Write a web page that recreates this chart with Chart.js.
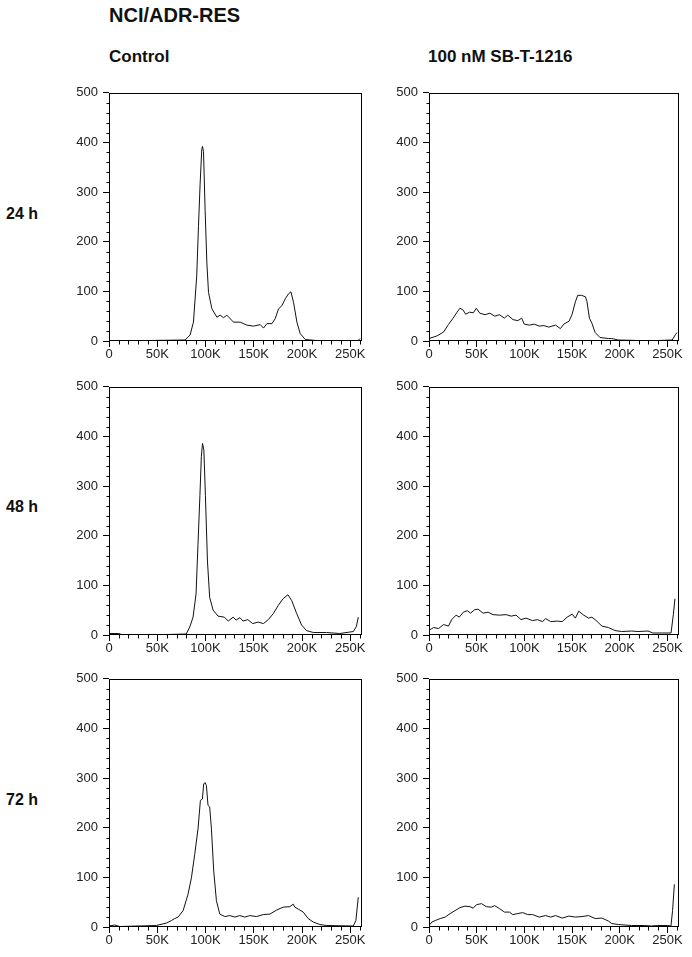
<!DOCTYPE html>
<html>
<head>
<meta charset="utf-8">
<script src="https://cdn.jsdelivr.net/npm/chart.js@4.4.1/dist/chart.umd.min.js"></script>
<style>
  body { margin: 0; width: 692px; height: 957px; background: #fff; position: relative; overflow: hidden; font-family: Arial, "Liberation Sans", sans-serif; }
  .lbl { position: absolute; font-weight: bold; color: #111; line-height: 1; white-space: nowrap; }
  canvas { position: absolute; }
</style>
</head>
<body>
<div class="lbl" style="left:109px; top:5px; font-size:20px">NCI/ADR-RES</div>
<div class="lbl" style="left:109px; top:48px; font-size:17px">Control</div>
<div class="lbl" style="left:428px; top:48px; font-size:17px">100 nM SB-T-1216</div>
<div class="lbl" style="left:6px; top:206px; font-size:16px">24 h</div>
<div class="lbl" style="left:6px; top:499px; font-size:16px">48 h</div>
<div class="lbl" style="left:6px; top:792px; font-size:16px">72 h</div>

<script>
// x values in K (thousands), y = count
const ctrl24X = [0, 40, 78.8, 84, 87.5, 90.9, 92.7, 94.4, 96.1, 96.8, 97.9, 99.6, 101.4, 103.1, 106.6, 111.8, 115.2, 118.7, 122.1, 129, 135.9, 142.8, 149.8, 156.7, 160.1, 163.6, 168.8, 172.2, 175.7, 179.1, 182.6, 186, 188.5, 191.2, 194.7, 198.1, 203.3, 215, 240, 258, 260];
const ctrl24Y = [1, 1, 2, 12, 38, 131, 230, 316, 385, 392, 382, 263, 157, 98, 65, 48, 52, 47, 52, 38, 38, 32, 30, 33, 26, 35, 35, 45, 65, 71, 85, 95, 99, 78, 38, 15, 3, 1, 1, 1, 5];

const treat24X = [0, 8.1, 15.2, 20.3, 25.3, 29.4, 32.4, 35.5, 38.5, 42.5, 46.6, 49.6, 53.2, 58.8, 63.8, 68.9, 73.9, 79, 82.6, 88.1, 93.2, 97.2, 99.9, 105.3, 110.4, 115.5, 120.5, 125.6, 132.7, 137.8, 141.4, 146.9, 149.9, 153.5, 156, 160, 164.1, 165.6, 168.2, 170.8, 174.2, 179.3, 188.4, 191.5, 198.5, 220, 240, 255, 258.5, 260];
const treat24Y = [5, 10, 18, 33, 46, 58, 66, 63, 54, 58, 57, 66, 56, 53, 56, 50, 53, 46, 52, 43, 41, 46, 34, 32, 34, 30, 31, 28, 32, 25, 34, 40, 53, 79, 92, 92, 89, 80, 46, 36, 17, 7, 5, 5, 2, 1, 1, 2, 13, 17];

const ctrl48X = [0, 10, 13, 30, 60, 80, 83.7, 87.1, 90.2, 92.2, 94.2, 95.7, 96.9, 98.3, 99.9, 102, 104.3, 107.9, 113, 119.5, 123.6, 128.6, 131.7, 135.7, 138.8, 143.8, 148.9, 154.6, 160, 165.1, 170.2, 175.2, 180.3, 185.4, 189.4, 194.5, 199.6, 204.6, 211.7, 225.4, 239.1, 253.2, 256.3, 258.3];
const ctrl48Y = [3, 3, 1, 1, 1, 2, 16, 36, 83, 182, 281, 360, 386, 373, 281, 149, 76, 50, 38, 36, 28, 36, 30, 35, 28, 31, 23, 26, 23, 31, 43, 59, 73, 81, 69, 43, 20, 9, 5, 5, 3, 7, 17, 36];

const treat48X = [0, 1.4, 4.8, 10, 15.2, 20.4, 23.8, 28.4, 31.8, 36, 40.1, 43.6, 48, 51.5, 56.7, 61.9, 67.1, 74, 80.9, 86.1, 91.3, 96.5, 101.7, 108.6, 113.8, 118.9, 122.4, 127.6, 134.5, 139.7, 144.9, 150.1, 153.5, 157, 162.2, 167.4, 170.8, 176, 181.2, 188.1, 195, 201.9, 212.3, 219.2, 229.6, 234.8, 243.4, 253.8, 256.2, 257.9];
const treat48Y = [8, 11, 15, 13, 21, 18, 31, 40, 36, 46, 49, 44, 51, 52, 44, 46, 41, 40, 41, 38, 40, 31, 34, 29, 31, 27, 33, 27, 28, 27, 36, 42, 34, 48, 40, 34, 36, 28, 18, 15, 9, 7, 8, 7, 8, 4, 4, 4, 41, 73];

const ctrl72X = [0, 0.7, 5.9, 11.1, 49.1, 59.5, 64.7, 68.1, 71.6, 76.8, 81.9, 85.4, 88.8, 92.3, 94.7, 96.8, 98.1, 99.5, 100.9, 102.6, 104.3, 106.1, 108.5, 111.3, 114.8, 120, 125.2, 130.4, 135.5, 140.7, 145.9, 152.8, 159.8, 166.7, 173.6, 180.5, 187.4, 190.9, 192.6, 196.1, 201.3, 206.4, 211.6, 218.5, 225.4, 253.1, 255.8, 258.3];
const ctrl72Y = [2, 2, 4, 1, 3, 8, 13, 17, 20, 33, 66, 99, 146, 199, 255, 258, 288, 291, 285, 245, 242, 199, 113, 53, 26, 21, 23, 20, 23, 20, 23, 21, 25, 26, 34, 40, 41, 46, 40, 36, 30, 17, 10, 5, 3, 2, 13, 60];

const treat72X = [0, 0.7, 3.1, 6.6, 11.8, 17, 22.1, 27.3, 32.5, 37.7, 42.9, 46.3, 49.8, 55, 60.2, 65.3, 68.8, 74, 79.2, 84.4, 87.8, 93, 98.2, 103.4, 108.6, 115.5, 122.4, 127.6, 132.8, 139.7, 146.6, 153.5, 160.4, 167.3, 174.3, 181.2, 188.1, 191.6, 198.5, 212.3, 226.1, 233, 239.9, 250.3, 253.7, 255.4, 257.3];
const treat72Y = [3, 3, 10, 13, 17, 20, 27, 33, 39, 42, 41, 38, 45, 47, 41, 40, 43, 37, 30, 30, 25, 27, 29, 25, 25, 20, 23, 20, 23, 18, 22, 20, 21, 23, 17, 18, 12, 7, 5, 3, 3, 2, 3, 3, 2, 33, 86];

const xTicks = [0, 50, 100, 150, 200, 250];   // shown as 0, 50K ... 250K
const yTicks = [0, 100, 200, 300, 400, 500];

// frame box + minor ticks
const frame = {
  id: 'frame',
  afterDraw(chart) {
    const { ctx, chartArea: a, scales: { x, y } } = chart;
    ctx.save();
    ctx.strokeStyle = '#000';
    ctx.lineWidth = 1;
    const l = Math.round(a.left) + 0.5, t = Math.round(a.top) + 0.5;
    const r = Math.round(a.right) - 0.5, b = Math.round(a.bottom) - 0.5;
    ctx.strokeRect(l, t, r - l, b - t);
    ctx.beginPath();
    for (let v = 10; v < 262; v += 10) {
      if (v % 50 === 0) continue;
      const px = Math.round(x.getPixelForValue(v)) + 0.5;
      ctx.moveTo(px, b); ctx.lineTo(px, b + 4);
    }
    for (let v = 20; v < 500; v += 20) {
      if (v % 100 === 0) continue;
      const py = Math.round(y.getPixelForValue(v)) + 0.5;
      ctx.moveTo(l - 3, py); ctx.lineTo(l, py);
    }
    ctx.stroke();
    ctx.restore();
  }
};

const panels = [
  { xs: ctrl24X, ys: ctrl24Y, col: 0, row: 0 },
  { xs: treat24X, ys: treat24Y, col: 1, row: 0 },
  { xs: ctrl48X, ys: ctrl48Y, col: 0, row: 1 },
  { xs: treat48X, ys: treat48Y, col: 1, row: 1 },
  { xs: ctrl72X, ys: ctrl72Y, col: 0, row: 2 },
  { xs: treat72X, ys: treat72Y, col: 1, row: 2 }
];

const colLeft = [109, 429], colWidth = [253, 250];
const rowTop = [89, 383, 675], plotH = 252;
const padL = 49, padT = 9, padR = 14, padB = 22;

const tickFont = { family: 'Arial, "Liberation Sans", sans-serif', size: 13 };

panels.forEach(p => {
  const c = document.createElement('canvas');
  const w = padL + colWidth[p.col] + padR, h = padT + plotH + padB;
  c.width = w; c.height = h;
  c.style.left = (colLeft[p.col] - padL) + 'px';
  c.style.top = (rowTop[p.row] - padT) + 'px';
  c.style.width = w + 'px'; c.style.height = h + 'px';
  document.body.appendChild(c);

  new Chart(c.getContext('2d'), {
    type: 'line',
    data: {
      datasets: [{
        data: p.xs.map((x, i) => ({ x: x, y: p.ys[i] })),
        borderColor: '#111',
        borderWidth: 1,
        pointRadius: 0,
        tension: 0,
        fill: false
      }]
    },
    options: {
      responsive: false,
      animation: false,
      devicePixelRatio: 1,
      layout: { padding: { top: padT, right: padR, left: 0, bottom: 0 } },
      plugins: { legend: { display: false }, tooltip: { enabled: false } },
      scales: {
        x: {
          type: 'linear', min: 0, max: 262.144,
          afterFit: s => { s.height = padB; },
          border: { display: false },
          grid: { drawOnChartArea: false, tickLength: 6, tickColor: '#000' },
          afterBuildTicks: s => { s.ticks = xTicks.map(v => ({ value: v })); },
          ticks: {
            autoSkip: false, maxRotation: 0, padding: 0, color: '#222', font: tickFont,
            callback: v => v === 0 ? '0' : v + 'K'
          }
        },
        y: {
          min: 0, max: 500,
          afterFit: s => { s.width = padL; },
          border: { display: false },
          grid: { drawOnChartArea: false, tickLength: 6, tickColor: '#000' },
          afterBuildTicks: s => { s.ticks = yTicks.map(v => ({ value: v })); },
          ticks: { padding: 5, color: '#222', font: tickFont }
        }
      }
    },
    plugins: [frame]
  });
});
</script>
</body>
</html>
